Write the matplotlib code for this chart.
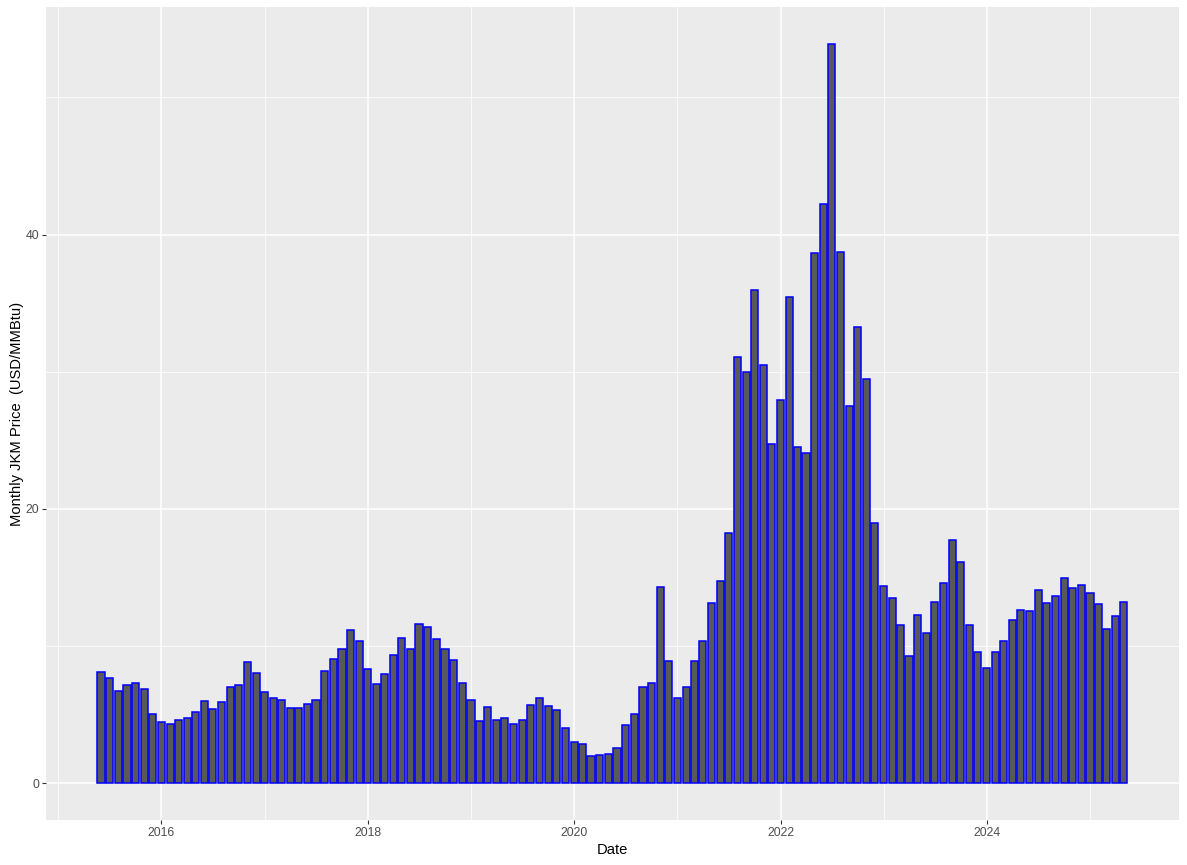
import matplotlib
matplotlib.use("Agg")
import matplotlib.pyplot as plt
import matplotlib.dates as mdates
import numpy as np
import pandas as pd

# Monthly JKM prices, Jun 2015 - May 2025
start_month = "2015-06-01"
prices = [
    8.08, 7.63, 6.69, 7.13, 7.28, 6.84, 5.01,            # Jun-Dec 2015
    4.43, 4.28, 4.58, 4.72, 5.16, 5.96, 5.38, 5.89, 6.98, 7.13, 8.81, 8.00,   # 2016
    6.62, 6.18, 6.09, 5.45, 5.45, 5.74, 6.09, 8.15, 9.03, 9.76, 11.14, 10.34, # 2017
    8.30, 7.20, 7.93, 9.32, 10.56, 9.76, 11.58, 11.36, 10.49, 9.76, 8.96, 7.33,  # 2018
    6.09, 4.56, 5.52, 4.63, 4.71, 4.28, 4.63, 5.67, 6.18, 5.60, 5.31, 3.98,   # 2019
    2.97, 2.82, 1.95, 2.02, 2.09, 2.53, 4.20, 5.01, 6.98, 7.28, 14.27, 8.88,  # 2020
    6.17, 6.97, 8.88, 10.34, 13.10, 14.70, 18.22, 31.07, 29.98, 35.96, 30.49, 24.72,  # 2021
    27.92, 35.44, 24.50, 24.07, 38.66, 42.23, 53.90, 38.70, 27.50, 33.26, 29.46, 19.00,  # 2022
    14.36, 13.48, 11.50, 9.24, 12.24, 10.93, 13.19, 14.58, 17.70, 16.10, 11.50, 9.54,  # 2023
    8.37, 9.53, 10.34, 11.86, 12.60, 12.53, 14.05, 13.10, 13.61, 14.93, 14.20, 14.43,  # 2024
    13.83, 13.03, 11.20, 12.15, 13.18,                    # Jan-May 2025
]
dates = pd.date_range(start_month, periods=len(prices), freq="MS")

y_ticks = [0, 20, 40]
y_minor = [10, 30, 50]
x_tick_years = [2016, 2018, 2020, 2022, 2024]
x_minor_years = [2015, 2017, 2019, 2021, 2023, 2025]

plt.rcParams['font.family'] = ['Liberation Sans', 'DejaVu Sans']

W, H = 1187, 865
fig = plt.figure(figsize=(W / 100, H / 100), dpi=100)
left, right, top, bottom = 46, 1179, 7, 820
ax = fig.add_axes([left / W, (H - bottom) / H, (right - left) / W, (bottom - top) / H])
ax.set_facecolor("#EBEBEB")

xnum = mdates.date2num(dates)
bar_w = 25.2
ax.bar(xnum, prices, width=bar_w, color="#595959", edgecolor="blue", linewidth=1.1, zorder=3)

lo = xnum[0] - bar_w / 2
hi = xnum[-1] + bar_w / 2
pad = 0.05 * (hi - lo)
ax.set_xlim(lo - pad, hi + pad)
ymax = max(prices)
ax.set_ylim(-0.05 * ymax, ymax * 1.05)

xt = [mdates.date2num(pd.Timestamp(f"{y}-01-01")) for y in x_tick_years]
xm = [mdates.date2num(pd.Timestamp(f"{y}-01-01")) for y in x_minor_years]
ax.set_xticks(xt)
ax.set_xticklabels([str(y) for y in x_tick_years])
ax.set_xticks(xm, minor=True)
ax.set_yticks(y_ticks)
ax.set_yticklabels([str(v) for v in y_ticks])
ax.set_yticks(y_minor, minor=True)

ax.grid(which="major", color="white", linewidth=1.1, zorder=0)
ax.grid(which="minor", color="white", linewidth=0.55, zorder=0)
ax.set_axisbelow(True)
for s in ax.spines.values():
    s.set_visible(False)

ax.tick_params(which="major", length=2.7, width=0.8, color="#333333",
               labelcolor="#4D4D4D", labelsize=8.8, pad=2.2)
ax.tick_params(which="minor", length=0)

ax.set_xlabel("Date", fontsize=10.6, color="black", labelpad=3)
ax.set_ylabel("Monthly JKM Price  (USD/MMBtu)", fontsize=10.6, color="black", labelpad=1)

fig.savefig("out.png", dpi=100, facecolor="white")
